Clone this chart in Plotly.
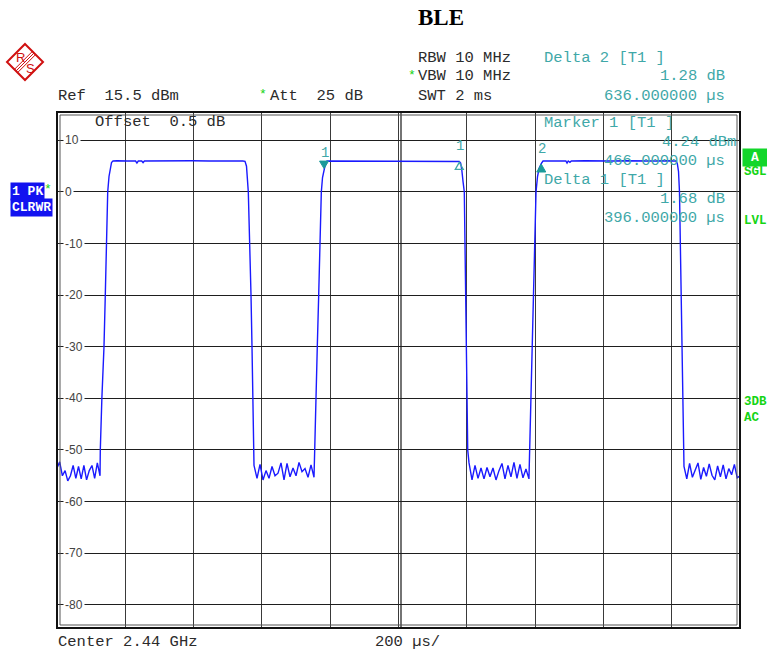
import numpy as np
import plotly.graph_objects as go

# ---------------- sweep trace (time in us, level in dBm) ----------------
# noise floor stretches between the bursts
noise_a_span = (-316.0, -190.0)
noise_a = [-53.5, -52.3, -55.0, -54.0, -56.0, -55.0, -53.0, -55.5, -53.2, -55.6,
           -53.0, -55.8, -54.0, -53.0, -55.5, -52.5, -55.0]
noise_b_span = (260.9, 436.6)
noise_b = [-53.0, -55.5, -52.8, -55.8, -54.0, -55.5, -53.2, -55.0, -54.5, -52.5,
           -55.8, -52.6, -55.2, -53.5, -55.0, -52.4, -54.2, -53.6, -55.3, -52.9,
           -55.3]
noise_c_span = (890.5, 1066.0)
noise_c = [-52.5, -55.8, -53.0, -55.5, -53.5, -55.6, -53.4, -55.2, -53.5, -55.8,
           -54.0, -52.6, -55.6, -53.0, -55.2, -52.4, -55.5, -52.8, -55.4, -53.7,
           -55.6]
noise_d_span = (1520.0, 1684.0)
noise_d = [-53.2, -55.6, -52.6, -55.3, -53.8, -52.5, -55.7, -53.4, -55.1, -52.7,
           -54.9, -55.8, -53.1, -55.2, -52.9, -55.6, -53.6, -54.8, -52.8, -55.4,
           -55.0]

# burst edges and flat tops
rise1_t = [-189.2, -184.6, -178.4, -174.6, -171.6, -167.5, -163.7, -160.8, -156.4, -152.0]
rise1_v = [-50.0, -40.0, -30.0, -20.0, -10.0, 0.0, 3.0, 4.5, 5.7, 6.0]
top1_t = [-140, -110, -86, -82, -78, -68, -64, -60, -20, 30, 80, 130, 180, 228, 234.5]
top1_v = [6.05, 6.0, 6.0, 5.6, 6.0, 6.0, 5.7, 6.0, 6.05, 6.0, 6.05, 6.0, 6.05, 6.0, 5.95]
fall1_t = [238.9, 244.2, 249.2, 252.1, 255.0, 257.1, 258.9]
fall1_v = [5.0, 0.0, -10.0, -20.0, -30.0, -40.0, -50.0]

rise2_t = [438.6, 441.5, 446.2, 450.3, 454.1, 458.0, 461.5, 466.0, 470.2, 474.6]
rise2_v = [-50.0, -40.0, -30.0, -20.0, -10.0, 0.0, 2.8, 4.24, 5.5, 6.0]
top2_t = [490, 530, 570, 600, 640, 680, 720, 760, 800, 840, 862, 866]
top2_v = [6.0, 6.05, 6.0, 6.0, 6.05, 6.0, 6.0, 6.05, 6.0, 6.0, 5.92, 5.6]
fall2_t = [869.0, 873.0, 876.7, 878.7, 880.2, 881.7, 884.0, 886.7]
fall2_v = [4.5, 2.0, 0.0, -10.0, -20.0, -30.0, -40.0, -50.0]

rise3_t = [1068.2, 1072.0, 1075.8, 1078.8, 1081.7, 1086.7, 1091.1, 1095.4, 1102.0, 1107.2]
rise3_v = [-50.0, -40.0, -30.0, -20.0, -10.0, 0.0, 3.0, 4.5, 5.52, 6.0]
top3_t = [1120, 1150, 1174, 1177.5, 1181, 1186, 1190, 1230, 1270, 1310, 1350, 1390, 1430, 1470, 1497]
top3_v = [6.0, 6.05, 6.0, 5.6, 6.0, 5.75, 6.0, 6.05, 6.0, 6.0, 6.05, 6.0, 6.0, 6.05, 6.0]
fall3_t = [1500.5, 1503.9, 1506.8, 1509.2, 1511.3, 1513.3, 1515.1, 1517.1]
fall3_v = [5.5, 4.0, 0.0, -10.0, -20.0, -30.0, -40.0, -50.0]

# marker readouts: (time us, level dBm)
marker1 = (466.0, 4.24)
delta1 = (466.0 + 396.0, 4.24 + 1.68)
delta2 = (466.0 + 636.0, 4.24 + 1.28)

y_ticks = [10, 0, -10, -20, -30, -40, -50, -60, -70, -80]
sweep_range = (-316.0, 1684.0)
level_range = (-84.5, 15.5)


def noise_times(span, vals):
    return list(np.linspace(span[0], span[1], len(vals)))


t = (noise_times(noise_a_span, noise_a) + rise1_t + top1_t + fall1_t
     + noise_times(noise_b_span, noise_b) + rise2_t + top2_t + fall2_t
     + noise_times(noise_c_span, noise_c) + rise3_t + top3_t + fall3_t
     + noise_times(noise_d_span, noise_d))
v = (noise_a + rise1_v + top1_v + fall1_v
     + noise_b + rise2_v + top2_v + fall2_v
     + noise_c + rise3_v + top3_v + fall3_v
     + noise_d)

# ---------------- page geometry ----------------
W, H = 767, 653
PL, PR, PT, PB = 57, 740, 112, 628
PW, PH = PR - PL, PB - PT


def px(x):
    return (x - PL) / PW


def py(y):
    return (PB - y) / PH


MONO = "Liberation Mono, Courier New, monospace"
TEAL = "#3fa8a8"
INK = "#2b2b2b"
GREEN = "#14d414"
BLUE = "#1212f0"

fig = go.Figure()
fig.add_trace(go.Scatter(x=t, y=v, mode="lines",
                         line=dict(color="#1a1aff", width=1.4),
                         hoverinfo="skip", showlegend=False))

shapes = []
# outer frame with inner rule
shapes.append(dict(type="rect", xref="paper", yref="paper", x0=0, x1=1, y0=0, y1=1,
                   line=dict(color="#111", width=2)))
shapes.append(dict(type="rect", xref="paper", yref="paper",
                   x0=px(PL + 3), x1=px(PR - 3), y0=py(PB - 3), y1=py(PT + 3),
                   line=dict(color="#555", width=1)))
# doubled centre division
shapes.append(dict(type="line", xref="x", yref="paper", xsizemode="pixel",
                   xanchor=sweep_range[0] + 1000, x0=2.5, x1=2.5, y0=0, y1=1,
                   line=dict(color="#3a3a3a", width=1.4), layer="below"))

# marker symbols, tip on the measured point
shapes.append(dict(type="path", xref="x", yref="y", xsizemode="pixel", ysizemode="pixel",
                   xanchor=marker1[0], yanchor=marker1[1],
                   path="M -4.5,9 L 4.5,9 L 0,1.5 Z", fillcolor="#1a9a9a",
                   line=dict(color="#1a9a9a", width=1)))
shapes.append(dict(type="path", xref="x", yref="y", xsizemode="pixel", ysizemode="pixel",
                   xanchor=delta1[0], yanchor=delta1[1],
                   path="M 0,-1 L 4,-8 L -4,-8 Z", fillcolor="rgba(0,0,0,0)",
                   line=dict(color=TEAL, width=1.3)))
shapes.append(dict(type="path", xref="x", yref="y", xsizemode="pixel", ysizemode="pixel",
                   xanchor=delta2[0], yanchor=delta2[1],
                   path="M 0,-0.5 L 4.5,-8.5 L -4.5,-8.5 Z", fillcolor="#1a9a9a",
                   line=dict(color="#1a9a9a", width=1)))

# R&S emblem
cx, cy, r = 25, 62, 18
shapes.append(dict(type="path", xref="paper", yref="paper",
                   path=f"M {px(cx)},{py(cy - r)} L {px(cx + r)},{py(cy)} "
                        f"L {px(cx)},{py(cy + r)} L {px(cx - r)},{py(cy)} Z",
                   line=dict(color="#d01010", width=2)))
for off in (-1.6, 0.0, 1.6):
    shapes.append(dict(type="line", xref="paper", yref="paper",
                       x0=px(16 + off), y0=py(71 + off), x1=px(34 + off), y1=py(53 + off),
                       line=dict(color="#d01010", width=1)))

ann = []


def text(x, y, s, color=INK, size=15.5, anchor="left", family=MONO, bold=False, bg=None):
    # nudge so the glyphs, not the text box, land on the given pixel
    nx = {"left": -2.5, "right": 2.5, "center": 0}[anchor] if not bg else 0
    d = dict(xref="paper", yref="paper", x=px(x + nx), y=py(y), text=f"<b>{s}</b>" if bold else s,
             showarrow=False, xanchor=anchor, yanchor="middle",
             font=dict(family=family, size=size, color=color))
    if bg:
        d["bgcolor"] = bg
        d["borderpad"] = 1
    ann.append(d)


# title
text(441, 18, "BLE", color="#000", size=23, anchor="center",
     family="Liberation Serif, Times New Roman, serif", bold=True)

# instrument settings
text(58, 96, "Ref  15.5 dBm")
text(263, 95, "*", color=GREEN, size=13, anchor="center")
text(270, 96, "Att  25 dB")
text(418, 58, "RBW 10 MHz")
text(412, 75, "*", color=GREEN, size=13, anchor="center")
text(418, 76, "VBW 10 MHz")
text(418, 96, "SWT 2 ms")
text(95, 122, "Offset  0.5 dB")
text(58, 642, "Center 2.44 GHz")
text(375, 642, "200 µs/")

# marker readouts
text(544, 58, "Delta 2 [T1 ]", color=TEAL)
text(724, 76, f"{delta2[1] - marker1[1]:.2f} dB", color=TEAL, anchor="right")
text(724, 96, f"{delta2[0] - marker1[0]:.6f} µs", color=TEAL, anchor="right")
text(544, 123, "Marker 1 [T1 ]", color=TEAL)
text(735, 142, f"{marker1[1]:.2f} dBm", color=TEAL, anchor="right")
text(724, 161, f"{marker1[0]:.6f} µs", color=TEAL, anchor="right")
text(544, 180, "Delta 1 [T1 ]", color=TEAL)
text(724, 199, f"{delta1[1] - marker1[1]:.2f} dB", color=TEAL, anchor="right")
text(724, 218, f"{delta1[0] - marker1[0]:.6f} µs", color=TEAL, anchor="right")

# trace status (left) and sweep status (right)
text(10, 191, "1 PK", color="#fff", size=13, bold=True, bg=BLUE)
text(48, 189, "*", color=GREEN, size=13, anchor="center")
text(10, 207, "CLRWR", color="#fff", size=13, bold=True, bg=BLUE)
ann.append(dict(xref="paper", yref="paper", x=px(755), y=py(157), text="<b>A</b>",
                showarrow=False, xanchor="center", yanchor="middle",
                font=dict(family=MONO, size=13, color="#fff"),
                bgcolor="#12d62a", borderpad=1, width=22))
text(744, 172, "SGL", color=GREEN, size=12.5, bold=True)
text(744, 221, "LVL", color=GREEN, size=12.5, bold=True)
text(744, 402, "3DB", color=GREEN, size=12.5, bold=True)
text(744, 418, "AC", color=GREEN, size=12.5, bold=True)

# emblem letters
text(20, 57, "R", color="#d01010", size=13, anchor="center", family="Liberation Sans, Arial, sans-serif")
text(30, 68, "S", color="#d01010", size=13, anchor="center", family="Liberation Sans, Arial, sans-serif")

# level scale written on the grid lines
for yt in y_ticks:
    ann.append(dict(xref="paper", yref="y", x=px(63), y=yt, text=str(yt), showarrow=False,
                    xanchor="left", yanchor="middle", bgcolor="#fff", borderpad=1,
                    font=dict(family="Liberation Sans, Arial, sans-serif", size=12, color="#444")))

# marker numbers
for (mx, my), lbl, sh in ((marker1, "1", 17), (delta1, "1", 15), (delta2, "2", 15)):
    ann.append(dict(xref="x", yref="y", x=mx, y=my, text=lbl, showarrow=False,
                    xanchor="center", yanchor="middle", yshift=sh, xshift=1,
                    font=dict(family=MONO, size=14, color=TEAL)))

fig.update_layout(
    width=W, height=H, autosize=False,
    margin=dict(l=PL, r=W - PR, t=PT, b=H - PB, pad=0),
    paper_bgcolor="#fff", plot_bgcolor="#fff",
    showlegend=False,
    shapes=shapes, annotations=ann,
    xaxis=dict(range=list(sweep_range), tick0=sweep_range[0], dtick=200,
               showgrid=True, gridcolor="#3a3a3a", gridwidth=1.4,
               showticklabels=False, ticks="", zeroline=False, showline=False, fixedrange=True),
    yaxis=dict(range=list(level_range), tick0=0, dtick=10,
               showgrid=True, gridcolor="#1e1e1e", gridwidth=1.4,
               showticklabels=False, ticks="", zeroline=False, showline=False, fixedrange=True),
)

fig.write_html("out.html")
